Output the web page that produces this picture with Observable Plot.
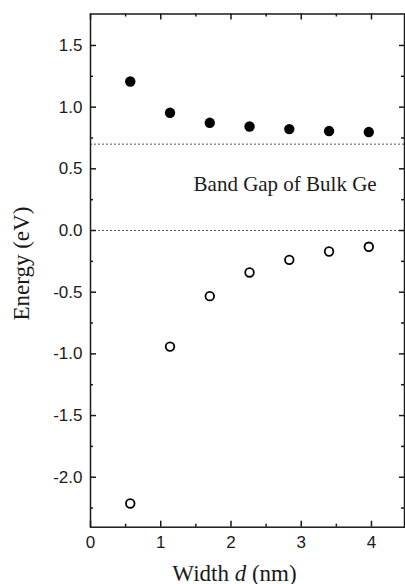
<!DOCTYPE html>
<html>
<head>
<meta charset="utf-8">
<script src="https://cdn.jsdelivr.net/npm/d3@7"></script>
<script src="https://cdn.jsdelivr.net/npm/@observablehq/plot@0.6"></script>
<style>
  html, body { margin: 0; padding: 0; background: #fff; }
  #chart svg { display: block; }
</style>
</head>
<body>
<div id="chart"></div>
<script>
// Wire width d (nm) — multiples of the Ge lattice constant
const widths = [0.566, 1.132, 1.698, 2.264, 2.830, 3.396, 3.962];
// Conduction-band edge (filled circles), eV
const conductionEnergy = [1.208, 0.954, 0.873, 0.843, 0.822, 0.806, 0.798];
// Valence-band edge (open circles), eV
const valenceEnergy = [-2.213, -0.941, -0.532, -0.340, -0.238, -0.170, -0.132];
// Reference levels: bulk Ge conduction edge and valence edge
const referenceLevels = [0.7, 0.0];
const xTickLabels = [0, 1, 2, 3, 4];
const xMinorTicks = [0.5, 1.5, 2.5, 3.5];
const yTickLabels = [-2.0, -1.5, -1.0, -0.5, 0.0, 0.5, 1.0, 1.5];
const yMinorTicks = [-2.25, -1.75, -1.25, -0.75, -0.25, 0.25, 0.75, 1.25];
const annotationText = ["Band Gap of Bulk Ge"];
const annotationPos = {x: 1.467, y: 0.324};
const xLabelParts = ["Width ", "d", " (nm)"];
const yLabel = ["Energy (eV)"];

const conductionBand = widths.map((x, i) => ({x, y: conductionEnergy[i]}));
const valenceBand = widths.map((x, i) => ({x, y: valenceEnergy[i]}));

const W = 405, H = 584;
const mL = 90, mR = 1, mT = 13.5, mB = 57.3;
const innerW = W - mL - mR, innerH = H - mT - mB;
const ink = "#1a1a1a";
const sans = "Liberation Sans, Arial, sans-serif";
const serif = "Liberation Serif, Times New Roman, serif";

const chart = Plot.plot({
  width: W,
  height: H,
  marginLeft: mL,
  marginRight: mR,
  marginTop: mT,
  marginBottom: mB,
  style: {fontFamily: sans, fontSize: "17px", color: ink, background: "#fff"},
  x: {domain: [0, 4.47], label: null},
  y: {domain: [-2.405, 1.755], label: null},
  marks: [
    // dotted reference levels
    Plot.ruleY(referenceLevels, {y: d => d, stroke: "#555", strokeWidth: 1, strokeDasharray: "2,2"}),
    // inward ticks: bottom
    Plot.ruleX(xTickLabels, {x: d => d, insetTop: innerH - 6, stroke: ink, strokeWidth: 1.5}),
    Plot.ruleX(xMinorTicks, {x: d => d, insetTop: innerH - 3, stroke: ink, strokeWidth: 1.5}),
    // top
    Plot.ruleX(xTickLabels, {x: d => d, insetBottom: innerH - 6, stroke: ink, strokeWidth: 1.5}),
    Plot.ruleX(xMinorTicks, {x: d => d, insetBottom: innerH - 3, stroke: ink, strokeWidth: 1.5}),
    // left
    Plot.ruleY(yTickLabels, {y: d => d, insetRight: innerW - 6, stroke: ink, strokeWidth: 1.5}),
    Plot.ruleY(yMinorTicks, {y: d => d, insetRight: innerW - 3, stroke: ink, strokeWidth: 1.5}),
    // right
    Plot.ruleY(yTickLabels, {y: d => d, insetLeft: innerW - 5, stroke: ink, strokeWidth: 1.5}),
    Plot.ruleY(yMinorTicks, {y: d => d, insetLeft: innerW - 3, stroke: ink, strokeWidth: 1.5}),
    Plot.frame({stroke: ink, strokeWidth: 1.5}),
    // tick labels
    Plot.axisX({ticks: xTickLabels, tickSize: 0, tickPadding: 9, tickFormat: d => String(d), fontSize: 17, fontFamily: sans, fill: ink, label: null}),
    Plot.axisY({ticks: yTickLabels, tickSize: 0, tickPadding: 8, tickFormat: d => d.toFixed(1), fontSize: 17, fontFamily: sans, fill: ink, label: null}),
    // data
    Plot.dot(conductionBand, {x: "x", y: "y", r: 5.2, fill: "#000", stroke: "none"}),
    Plot.dot(valenceBand, {x: "x", y: "y", r: 4.3, fill: "#fff", stroke: "#000", strokeWidth: 1.8}),
    // annotation
    Plot.text(annotationText, {x: () => annotationPos.x, y: () => annotationPos.y, text: d => d, textAnchor: "start", lineAnchor: "bottom", fontFamily: serif, fontSize: 21, fill: ink}),
    // axis titles
    Plot.text([xLabelParts.join("")], {frameAnchor: "bottom", text: d => d, textAnchor: "middle", lineAnchor: "bottom", dx: -13, dy: 53.3, fontFamily: serif, fontSize: 23, fill: ink}),
    Plot.text(yLabel, {frameAnchor: "left", text: d => d, rotate: -90, textAnchor: "middle", lineAnchor: "middle", dx: -69, dy: -7, fontFamily: serif, fontSize: 23, fill: ink})
  ]
});

document.getElementById("chart").appendChild(chart);

// italic "d" in the x-axis title
d3.select(chart).selectAll("text").each(function () {
  if (this.textContent === xLabelParts.join("")) {
    const t = d3.select(this);
    t.text(null);
    xLabelParts.forEach((p, i) => {
      t.append("tspan").attr("font-style", i === 1 ? "italic" : null).text(p);
    });
  }
});
</script>
</body>
</html>
